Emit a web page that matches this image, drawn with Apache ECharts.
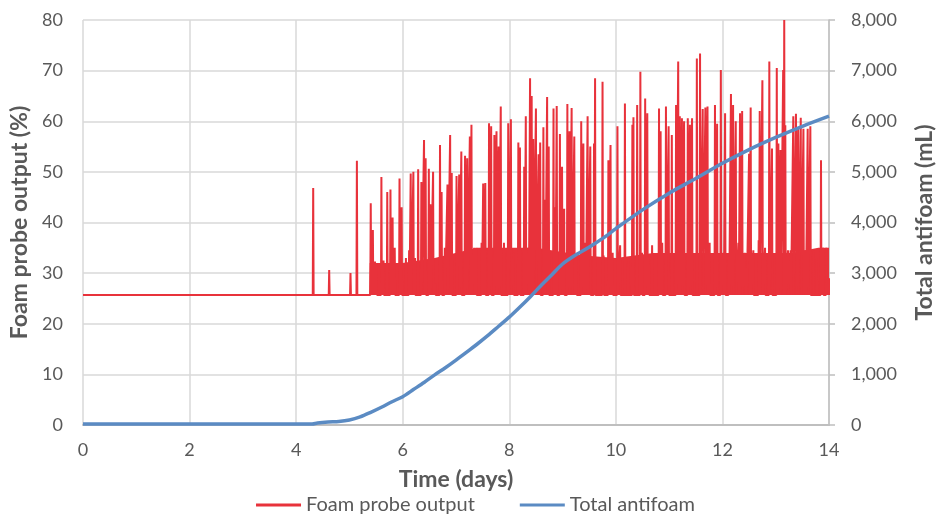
<!DOCTYPE html>
<html>
<head>
<meta charset="utf-8">
<script src="https://cdn.jsdelivr.net/npm/echarts@6/dist/echarts.min.js"></script>
<style>
  html, body { margin: 0; padding: 0; background: #fff; }
  #chart { width: 951px; height: 521px; }
</style>
</head>
<body>
<div id="chart"></div>
<script>
// x axis ticks (days)
var dayTicks = [0, 2, 4, 6, 8, 10, 12, 14];

// foam probe baseline (%)
var probeBase = 25.7;

// foam probe spikes: day and peak value (%)
var spikeDays = [4.32, 4.62, 5.02, 5.14,
  5.40, 5.44, 5.48, 5.51, 5.60, 5.64, 5.71, 5.77, 5.81, 5.85, 5.94, 5.98, 6.06, 6.12, 6.15, 6.20,
  6.23, 6.29, 6.35, 6.40, 6.43, 6.49, 6.52, 6.57, 6.61, 6.70, 6.73, 6.79, 6.84, 6.89, 6.92, 7.01,
  7.06, 7.10, 7.17, 7.21, 7.26, 7.29, 7.34, 7.38, 7.48, 7.51, 7.55, 7.62, 7.66, 7.72, 7.76, 7.80,
  7.84, 7.90, 7.98, 8.03, 8.08, 8.17, 8.20, 8.28, 8.31, 8.36, 8.39, 8.42, 8.45, 8.50, 8.55, 8.58,
  8.64, 8.67, 8.71, 8.74, 8.83, 8.86, 8.89, 8.95, 8.99, 9.03, 9.09, 9.13, 9.17, 9.22, 9.26, 9.35,
  9.39, 9.43, 9.47, 9.52, 9.59, 9.61, 9.75, 9.77, 9.86, 9.90, 9.94, 10.03, 10.08, 10.17, 10.23, 10.31,
  10.33, 10.40, 10.46, 10.49, 10.55, 10.59, 10.62, 10.68, 10.81, 10.84, 10.87, 10.94, 10.99, 11.05, 11.13, 11.17,
  11.20, 11.24, 11.28, 11.35, 11.39, 11.43, 11.52, 11.58, 11.63, 11.68, 11.72, 11.76, 11.86, 11.90, 11.97, 12.02,
  12.05, 12.12, 12.16, 12.20, 12.25, 12.30, 12.33, 12.37, 12.42, 12.45, 12.50, 12.53, 12.58, 12.68, 12.70, 12.75,
  12.80, 12.88, 12.93, 13.02, 13.05, 13.09, 13.14, 13.16, 13.18, 13.23, 13.28, 13.33, 13.38, 13.42, 13.47, 13.52,
  13.56, 13.60, 13.65, 13.71, 13.77, 13.85, 13.89, 13.95, 14.00];
var spikePeaks = [46.8, 30.6, 30.0, 52.2,
  43.8, 38.5, 32.3, 32.0, 49.0, 32.5, 46.0, 46.5, 41.0, 35.0, 48.7, 43.0, 33.0, 34.5, 49.7, 50.0,
  33.0, 50.5, 48.0, 56.3, 52.7, 50.6, 43.6, 50.0, 28.0, 55.3, 46.0, 35.0, 47.5, 57.3, 49.8, 49.2,
  49.5, 54.0, 53.2, 52.7, 57.0, 59.3, 35.0, 35.0, 36.0, 47.7, 47.8, 59.6, 59.0, 57.3, 58.0, 55.0,
  62.9, 36.0, 59.6, 60.4, 34.0, 55.8, 54.8, 51.0, 61.0, 35.0, 68.5, 65.0, 56.5, 62.5, 53.5, 55.8,
  58.8, 44.5, 64.8, 55.0, 62.5, 43.0, 63.0, 57.5, 51.0, 42.7, 63.4, 58.0, 62.6, 57.0, 33.0, 60.0,
  55.6, 36.0, 61.0, 55.0, 55.6, 68.5, 67.8, 33.5, 52.3, 55.3, 34.0, 59.0, 35.5, 63.5, 33.0, 59.3,
  60.8, 63.2, 69.8, 34.0, 64.5, 61.6, 33.0, 35.5, 62.5, 58.0, 36.0, 62.9, 59.0, 57.3, 63.2, 71.8,
  61.0, 60.6, 60.0, 60.6, 59.3, 60.6, 72.4, 73.4, 62.4, 62.7, 62.9, 36.0, 63.2, 59.5, 70.1, 34.0,
  61.6, 33.0, 65.4, 63.2, 60.0, 36.0, 61.6, 62.0, 34.0, 31.0, 53.6, 62.7, 34.5, 36.5, 62.0, 68.1,
  35.0, 71.8, 54.6, 70.5, 55.6, 54.3, 70.1, 80.0, 59.2, 34.5, 34.5, 61.0, 61.5, 58.5, 60.7, 58.5,
  34.5, 58.5, 59.0, 34.5, 33.0, 52.3, 35.0, 35.0, 29.0];

// top of the dense band of small oscillations (%)
var bandDays = [5.37, 5.38, 6.0, 6.6, 7.4, 8.5, 9.4, 10.0, 10.7, 11.8, 12.5, 13.3, 13.8, 14.0];
var bandTop = [25.7, 32.0, 32.0, 33.0, 35.0, 35.0, 33.5, 33.0, 34.0, 34.0, 34.0, 34.0, 35.0, 35.0];

// total antifoam (mL)
var foamDays = [0, 4.3, 4.4, 4.6, 4.8, 5.0, 5.2, 5.4, 5.6, 5.8, 6.0, 6.2, 6.4, 6.6, 6.8, 7.0, 7.2, 7.4,
  7.6, 7.8, 8.0, 8.2, 8.4, 8.6, 8.8, 9.0, 9.2, 9.4, 9.6, 9.8, 10.0, 10.5, 11.0, 11.5, 12.0, 12.5, 13.0, 13.5, 14.0];
var foamTotal = [20, 20, 40, 60, 70, 100, 160, 250, 350, 460, 560, 700, 840, 990, 1130, 1280, 1440, 1600,
  1770, 1950, 2130, 2330, 2540, 2760, 2970, 3180, 3330, 3450, 3580, 3720, 3880, 4250, 4580, 4870, 5170, 5440, 5680, 5900, 6100];

var probeData = [[0, probeBase]];
spikeDays.forEach(function (d, i) {
  probeData.push([d - 0.008, probeBase]);
  probeData.push([d, spikePeaks[i]]);
  probeData.push([d + 0.008, probeBase]);
});
var bandData = bandDays.map(function (d, i) { return [d, bandTop[i]]; });
var foamData = foamDays.map(function (d, i) { return [d, foamTotal[i]]; });

var red = '#e8323b';
var blue = '#5b8bc3';
var txt = '#595959';
var font = 'Lato';

var chart = echarts.init(document.getElementById('chart'));
chart.setOption({
  animation: false,
  textStyle: { fontFamily: font },
  grid: { left: 83, right: 122, top: 20, bottom: 96, containLabel: false, outerBoundsMode: 'none' },
  legend: {
    bottom: 1,
    left: 'center',
    itemGap: 45,
    itemWidth: 45,
    itemHeight: 3,
    icon: 'rect',
    data: ['Foam probe output', 'Total antifoam'],
    textStyle: { color: txt, fontSize: 20, fontFamily: font }
  },
  xAxis: {
    type: 'value',
    min: 0,
    max: 14,
    interval: 2,
    name: 'Time (days)',
    nameLocation: 'middle',
    nameGap: 43,
    nameTextStyle: { color: txt, fontSize: 23, fontWeight: 'bold', fontFamily: font },
    axisLine: { show: true, lineStyle: { color: '#bfbfbf', width: 2 } },
    axisTick: { show: false },
    axisLabel: { color: txt, fontSize: 18, margin: 16 },
    splitLine: { show: true, lineStyle: { color: '#d9d9d9', width: 1.5 } }
  },
  yAxis: [{
    type: 'value',
    min: 0,
    max: 80,
    interval: 10,
    name: 'Foam probe output (%)',
    nameLocation: 'middle',
    nameGap: 47,
    nameTextStyle: { color: txt, fontSize: 23, fontWeight: 'bold', fontFamily: font },
    axisLine: { show: false },
    axisTick: { show: false },
    axisLabel: { color: txt, fontSize: 18, margin: 20 },
    splitLine: { show: true, lineStyle: { color: '#d9d9d9', width: 1.5 } }
  }, {
    type: 'value',
    min: 0,
    max: 8000,
    interval: 1000,
    name: 'Total antifoam (mL)',
    nameLocation: 'middle',
    nameGap: 84,
    nameTextStyle: { color: txt, fontSize: 23, fontWeight: 'bold', fontFamily: font },
    axisLine: { show: true, lineStyle: { color: '#bfbfbf', width: 1.5 } },
    axisTick: { show: true, inside: false, length: 6, lineStyle: { color: '#bfbfbf', width: 1.5 } },
    axisLabel: {
      color: txt, fontSize: 18, margin: 22,
      formatter: function (v) { return v.toLocaleString('en-US'); }
    },
    splitLine: { show: false }
  }],
  series: [{
    name: 'Foam probe output',
    type: 'line',
    data: probeData,
    showSymbol: false,
    sampling: false,
    color: red,
    lineStyle: { color: red, width: 2 },
    z: 2
  }, {
    name: 'band',
    type: 'line',
    data: bandData,
    showSymbol: false,
    lineStyle: { width: 0 },
    areaStyle: { color: red, opacity: 1, origin: probeBase },
    z: 2
  }, {
    name: 'Total antifoam',
    type: 'line',
    yAxisIndex: 1,
    data: foamData,
    smooth: 0.3,
    showSymbol: false,
    color: blue,
    lineStyle: { color: blue, width: 3.5 },
    z: 3
  }]
});
</script>
</body>
</html>
